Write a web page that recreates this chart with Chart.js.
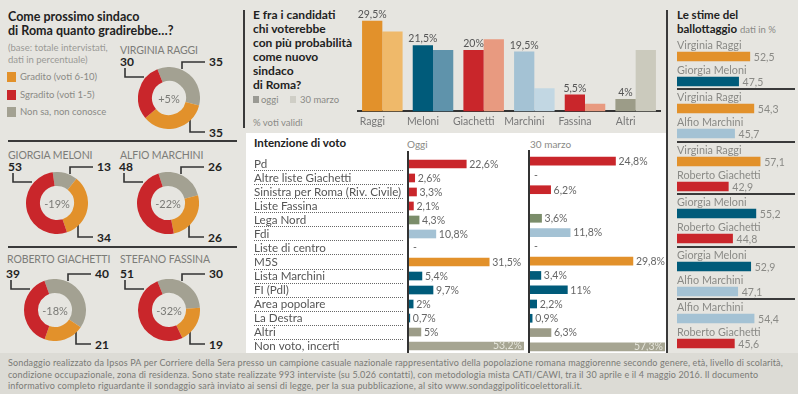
<!DOCTYPE html>
<html lang="it">
<head>
<meta charset="utf-8">
<title>Sondaggio Roma</title>
<script src="https://cdn.jsdelivr.net/npm/chart.js@4.4.1/dist/chart.umd.min.js"></script>
<style>
  html, body { margin: 0; padding: 0; }
  body {
    width: 798px; height: 394px; position: relative; overflow: hidden;
    background: #e6e5e0; font-family: Lato, 'Open Sans', sans-serif; color: #222;
  }
  .abs { position: absolute; white-space: nowrap; }
  .title { font-weight: 700; font-size: 12.5px; line-height: 14px; color: #222; }
  .muted { color: #8a8a86; font-size: 9.5px; }
  .rule { position: absolute; background: #3a3a3a; }
  .sq { position: absolute; width: 9px; height: 10px; }
  .dname { position: absolute; font-size: 10.5px; color: #7c7c78; letter-spacing: -0.1px; }
  .donut { position: absolute; width: 112px; height: 95px; }
  .donut .cv { position: absolute; left: 25px; top: 14px; width: 62px; height: 62px; }
  .donut .num { position: absolute; font-weight: 700; font-size: 12px; line-height: 12px; color: #222; }
  .donut svg { position: absolute; left: 0; top: 0; }
  #footer {
    position: absolute; left: 0; top: 353px; width: 798px; height: 41px;
    background: #dcdbd5; color: #7a7a76; font-size: 9px; letter-spacing: 0.15px; line-height: 11.5px;
    padding: 4px 0 0 8px; box-sizing: border-box; white-space: nowrap; overflow: hidden; z-index: 5;
  }
</style>
</head>
<body>

<!-- left panel -->
<div class="abs title" style="left:8px;top:10px;font-size:12.5px">Come prossimo sindaco<br>di Roma quanto gradirebbe…?</div>
<div class="abs muted" style="left:8px;top:42px;line-height:11.5px;color:#9a9a96">(base: totale intervistati,<br>dati in percentuale)</div>
<div class="sq" style="left:7px;top:72px;background:#e2912b"></div>
<div class="abs muted" style="left:20px;top:71px">Gradito (voti 6-10)</div>
<div class="sq" style="left:7px;top:90px;background:#c9262b"></div>
<div class="abs muted" style="left:20px;top:89px">Sgradito (voti 1-5)</div>
<div class="sq" style="left:7px;top:107px;background:#a3a192"></div>
<div class="abs muted" style="left:20px;top:106px">Non sa, non conosce</div>
<div class="rule" style="left:8px;top:140px;width:229px;height:2px"></div>
<div class="rule" style="left:8px;top:246px;width:229px;height:2px"></div>
<div id="donuts"></div>

<!-- middle top -->
<div class="rule" style="left:243px;top:10px;width:2px;height:118px"></div>
<div class="abs title" style="left:253px;top:8px;font-size:12px">E fra i candidati<br>chi voterebbe<br>con più probabilità<br>come nuovo<br>sindaco<br>di Roma?</div>
<div class="sq" style="left:253px;top:96px;width:6px;height:7px;background:#9a9a94"></div>
<div class="abs muted" style="left:261px;top:94px">oggi</div>
<div class="sq" style="left:290px;top:96px;width:6px;height:7px;background:#cfcec6"></div>
<div class="abs muted" style="left:300px;top:94px">30 marzo</div>
<div class="abs muted" style="left:253px;top:117px">% voti validi</div>
<canvas id="topBars" class="abs" width="304" height="132" style="left:357px;top:0px"></canvas>

<!-- middle table -->
<div class="abs" style="left:246px;top:133px;width:420px;height:221px;background:#fff"></div>
<div class="abs" style="left:254px;top:136px;font-weight:700;font-size:11.5px;color:#222">Intenzione di voto</div>
<div class="abs muted" style="left:407px;top:138px;font-size:10px">Oggi</div>
<div class="abs muted" style="left:530px;top:138px;font-size:10px">30 marzo</div>
<canvas id="oggiChart" class="abs" width="280" height="210" style="left:250px;top:150px"></canvas>
<canvas id="marzoChart" class="abs" width="148" height="210" style="left:520px;top:150px"></canvas>

<!-- right panel -->
<div class="rule" style="left:666px;top:10px;width:2px;height:345px"></div>
<div class="abs title" style="left:677px;top:8px;font-size:11.5px">Le stime del<br>ballottaggio <span style="font-weight:400;font-size:9.5px;color:#8a8a86">dati in %</span></div>
<div id="ballots"></div>

<div id="footer">Sondaggio realizzato da Ipsos PA per Corriere della Sera presso un campione casuale nazionale rappresentativo della popolazione romana maggiorenne secondo genere, età, livello di scolarità,<br>condizione occupazionale, zona di residenza. Sono state realizzate 993 interviste (su 5.026 contatti), con metodologia mista CATI/CAWI, tra il 30 aprile e il 4 maggio 2016. Il documento<br>informativo completo riguardante il sondaggio sarà inviato ai sensi di legge, per la sua pubblicazione, al sito www.sondaggipoliticoelettorali.it.</div>

<script>
// ---- colours
const ORANGE = '#e2912b', ORANGE_L = '#efb96a';
const TEAL = '#005b7a', TEAL_L = '#5f93ab';
const RED = '#c9262b', RED_L = '#e89a80';
const BLUE = '#a4c2d4', BLUE_L = '#c2d7e3';
const GRAY = '#9c9c88', GRAY_L = '#cbcabd';
const LEGA = '#7b8d6a', NONSA = '#a3a192', NONVOTO = '#a6a592';

// ---- gradimento (donuts)
const donutNames = ['VIRGINIA RAGGI', 'GIORGIA MELONI', 'ALFIO MARCHINI', 'ROBERTO GIACHETTI', 'STEFANO FASSINA'];
const gradito = [35, 34, 26, 21, 19];
const sgradito = [30, 53, 48, 39, 51];
const nonSa = [35, 13, 26, 40, 30];

// ---- chi voterebbe
const candidates = ['Raggi', 'Meloni', 'Giachetti', 'Marchini', 'Fassina', 'Altri'];
const candOggi = [29.5, 21.5, 20, 19.5, 5.5, 4];
const candMarzo = [26, 20, 23.5, 7.5, 2.5, 20];

// ---- intenzione di voto
const parties = ['Pd', 'Altre liste Giachetti', 'Sinistra per Roma (Riv. Civile)', 'Liste Fassina', 'Lega Nord', 'Fdi',
  'Liste di centro', 'M5S', 'Lista Marchini', 'FI (Pdl)', 'Area popolare', 'La Destra', 'Altri', 'Non voto, incerti'];
const partyOggi = [22.6, 2.6, 3.3, 2.1, 4.3, 10.8, null, 31.5, 5.4, 9.7, 2, 0.7, 5, 53.2];
const partyMarzo = [24.8, null, 6.2, null, 3.6, 11.8, null, 29.8, 3.4, 11, 2.2, 0.9, 6.3, 57.3];
const marzoBlank = ['Liste Fassina'];

// ---- ballottaggio
const ballotNames = [
  ['Virginia Raggi', 'Giorgia Meloni'],
  ['Virginia Raggi', 'Alfio Marchini'],
  ['Virginia Raggi', 'Roberto Giachetti'],
  ['Giorgia Meloni', 'Roberto Giachetti'],
  ['Giorgia Meloni', 'Alfio Marchini'],
  ['Alfio Marchini', 'Roberto Giachetti']
];
const ballotValues = [[52.5, 47.5], [54.3, 45.7], [57.1, 42.9], [55.2, 44.8], [52.9, 47.1], [54.4, 45.6]];

const candColor = { 'Virginia Raggi': ORANGE, 'Giorgia Meloni': TEAL, 'Alfio Marchini': BLUE, 'Roberto Giachetti': RED };
const partyColors = [RED, RED, RED, RED, LEGA, BLUE, GRAY, ORANGE, TEAL, TEAL, TEAL, TEAL, GRAY, NONVOTO];

Chart.defaults.font.family = 'Lato, "Open Sans", sans-serif';
Chart.defaults.animation = false;
Chart.defaults.plugins.legend.display = false;
Chart.defaults.plugins.tooltip.enabled = false;

const fmt = (v) => String(v).replace('.', ',');

// ---------------- donuts
const donutPos = [[169, 98], [57, 203], [168, 203], [55, 310], [169, 310]];
const namePos = [[120, 44], [8, 149], [120, 149], [7, 253], [120, 253]];
const donutRot = [-22, -8, -18, -20, -22];

const centerText = {
  id: 'centerText',
  afterDraw(chart, args, opts) {
    const { ctx, chartArea: a } = chart;
    ctx.save();
    ctx.font = '11px Lato';
    ctx.fillStyle = '#7a7a76';
    ctx.textAlign = 'center';
    ctx.textBaseline = 'middle';
    ctx.fillText(opts.text, (a.left + a.right) / 2, (a.top + a.bottom) / 2 + 1);
    ctx.restore();
  }
};

const donutsEl = document.getElementById('donuts');
donutNames.forEach((name, i) => {
  const [cx, cy] = donutPos[i];
  const nm = document.createElement('div');
  nm.className = 'dname';
  nm.style.left = namePos[i][0] + 'px';
  nm.style.top = namePos[i][1] + 'px';
  nm.textContent = name;
  donutsEl.appendChild(nm);

  const box = document.createElement('div');
  box.className = 'donut';
  box.style.left = (cx - 56) + 'px';
  box.style.top = (cy - 45) + 'px';
  box.innerHTML = `
    <svg width="112" height="95">
      <polyline points="12,15 12,24 31,24" fill="none" stroke="#333" stroke-width="1.6"/>
      <polyline points="92,9 69,9 69,16" fill="none" stroke="#333" stroke-width="1.6"/>
      <polyline points="77,65 77,79 92,79" fill="none" stroke="#333" stroke-width="1.6"/>
    </svg>
    <div class="num" style="left:7px;top:3px">${sgradito[i]}</div>
    <div class="num" style="left:96px;top:3px">${nonSa[i]}</div>
    <div class="num" style="left:96px;top:74px">${gradito[i]}</div>
    <div class="cv"><canvas width="62" height="62"></canvas></div>`;
  donutsEl.appendChild(box);

  const diff = gradito[i] - sgradito[i];
  new Chart(box.querySelector('canvas'), {
    type: 'doughnut',
    data: {
      labels: ['Non sa, non conosce', 'Gradito', 'Sgradito'],
      datasets: [{
        data: [nonSa[i], gradito[i], sgradito[i]],
        backgroundColor: [NONSA, ORANGE, RED],
        borderWidth: 0
      }]
    },
    options: {
      responsive: false,
      cutout: '55%',
      rotation: donutRot[i],
      plugins: { centerText: { text: (diff > 0 ? '+' : '') + diff + '%' } }
    },
    plugins: [centerText]
  });
});

// ---------------- candidates bar chart
const topLabels = {
  id: 'topLabels',
  afterDatasetsDraw(chart) {
    const { ctx } = chart;
    const meta = chart.getDatasetMeta(0);
    ctx.save();
    ctx.font = '10.5px Lato';
    ctx.fillStyle = '#555';
    ctx.textAlign = 'center';
    ctx.textBaseline = 'bottom';
    meta.data.forEach((bar, i) => {
      ctx.fillText(fmt(candOggi[i]) + '%', bar.x, bar.y - 1);
    });
    ctx.restore();
  }
};

new Chart(document.getElementById('topBars'), {
  type: 'bar',
  data: {
    labels: candidates,
    datasets: [
      { label: 'oggi', data: candOggi, backgroundColor: [ORANGE, TEAL, RED, BLUE, RED, GRAY],
        categoryPercentage: 0.8, barPercentage: 1 },
      { label: '30 marzo', data: candMarzo, backgroundColor: [ORANGE_L, TEAL_L, RED_L, BLUE_L, RED_L, GRAY_L],
        categoryPercentage: 0.8, barPercentage: 1 }
    ]
  },
  options: {
    responsive: false,
    layout: { padding: { top: 10 } },
    scales: {
      x: {
        grid: { display: false, drawTicks: false },
        border: { color: '#333', width: 2 },
        ticks: { color: '#777', font: { size: 10.5 }, padding: 4, labelOffset: -10 }
      },
      y: { display: false, min: 0, max: 33 }
    }
  },
  plugins: [topLabels]
});

// ---------------- intenzione di voto
const tableLabels = {
  id: 'tableLabels',
  afterDatasetsDraw(chart, args, opts) {
    const { ctx, chartArea: a } = chart;
    const ys = chart.scales.y;
    const vals = chart.data.datasets[0].data;
    ctx.save();
    // axis line
    ctx.strokeStyle = '#333';
    ctx.lineWidth = 2;
    ctx.beginPath();
    ctx.moveTo(a.left, a.top - 6);
    ctx.lineTo(a.left, a.bottom);
    ctx.stroke();
    // dotted row rules
    if (opts.dots) {
      ctx.strokeStyle = '#666';
      ctx.lineWidth = 1;
      ctx.setLineDash([1, 1]);
      parties.forEach((p, i) => {
        const y = Math.round(ys.getPixelForTick(i) + 6.5) + 0.5;
        ctx.beginPath();
        ctx.moveTo(ys.left, y);
        ctx.lineTo(a.left - 4, y);
        ctx.stroke();
      });
      ctx.setLineDash([]);
    }
    ctx.font = '10.5px Lato';
    ctx.textBaseline = 'middle';
    chart.getDatasetMeta(0).data.forEach((bar, i) => {
      const v = vals[i];
      ctx.fillStyle = '#666';
      ctx.textAlign = 'left';
      if (v === null) {
        if (!(opts.blank || []).includes(parties[i])) ctx.fillText('-', a.left + 5, bar.y);
      } else if (bar.x > a.right) {
        ctx.fillStyle = '#e4e4da';
        ctx.textAlign = 'right';
        ctx.fillText(fmt(v) + '%', a.right - 2, bar.y);
      } else {
        ctx.fillText(fmt(v) + '%', bar.x + 3, bar.y + 0.5);
      }
    });
    ctx.restore();
  }
};

function partyChart(id, values, max, padding, showLabels, blank) {
  return new Chart(document.getElementById(id), {
    type: 'bar',
    data: {
      labels: parties,
      datasets: [{ data: values, backgroundColor: partyColors, barThickness: 8 }]
    },
    options: {
      responsive: false,
      indexAxis: 'y',
      layout: { padding },
      scales: {
        x: { display: false, min: 0, max },
        y: showLabels ? {
          grid: { display: false, drawTicks: false },
          border: { display: false },
          ticks: { crossAlign: 'far', autoSkip: false, color: '#555', font: { size: 11.6 }, padding: 0 },
          afterFit: (s) => { s.width = 154; }
        } : { display: false }
      },
      plugins: { tableLabels: { dots: showLabels, blank } }
    },
    plugins: [tableLabels]
  });
}

partyChart('oggiChart', partyOggi, 45, { left: 4, top: 4, right: 6, bottom: 6 }, true, []);
partyChart('marzoChart', partyMarzo, 39, { left: 9, top: 4, right: 3, bottom: 6 }, false, marzoBlank);

// ---------------- ballottaggio
const ballotLabels = {
  id: 'ballotLabels',
  afterDatasetsDraw(chart, args, opts) {
    const { ctx, chartArea: a } = chart;
    ctx.save();
    ctx.textBaseline = 'middle';
    ctx.textAlign = 'left';
    chart.getDatasetMeta(0).data.forEach((bar, i) => {
      ctx.font = '10.8px Lato';
      ctx.fillStyle = '#8a8a86';
      ctx.fillText(opts.names[i], a.left, bar.y - 11);
      ctx.font = '10.5px Lato';
      ctx.fillText(fmt(opts.values[i]), bar.x + 4, bar.y + 1);
    });
    ctx.restore();
  }
};

const ballotsEl = document.getElementById('ballots');
ballotNames.forEach((names, i) => {
  const top = 36.5 + i * 52.5;
  if (i > 0) {
    const r = document.createElement('div');
    r.className = 'rule';
    r.style.cssText = `left:677px;top:${top - 1}px;width:118px;height:2px`;
    ballotsEl.appendChild(r);
  }
  const cv = document.createElement('canvas');
  cv.width = 121; cv.height = 57;
  cv.className = 'abs';
  cv.style.left = '677px';
  cv.style.top = top + 'px';
  ballotsEl.appendChild(cv);
  new Chart(cv, {
    type: 'bar',
    data: {
      labels: names,
      datasets: [{ data: ballotValues[i], backgroundColor: names.map((n) => candColor[n]), barThickness: 9 }]
    },
    options: {
      responsive: false,
      indexAxis: 'y',
      layout: { padding: { top: 7, left: 0, right: 0, bottom: 0 } },
      scales: {
        x: { display: false, min: 20, max: 74 },
        y: { display: false }
      },
      plugins: { ballotLabels: { names, values: ballotValues[i] } }
    },
    plugins: [ballotLabels]
  });
});
</script>
</body>
</html>
